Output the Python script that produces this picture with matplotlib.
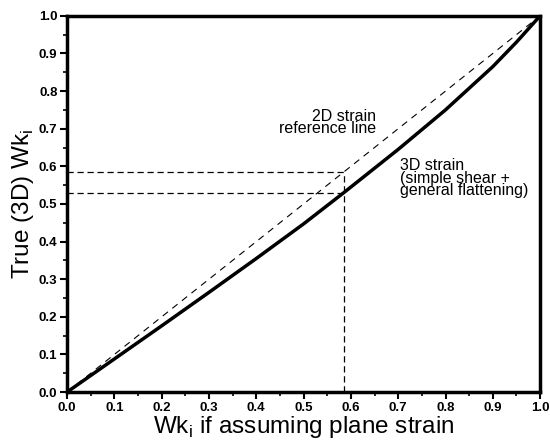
import matplotlib
matplotlib.use("Agg")
import matplotlib.pyplot as plt
import numpy as np

# 3D strain curve
wk_plane = [0.0, 0.05, 0.1, 0.2, 0.3, 0.4, 0.5, 0.585, 0.7, 0.8, 0.9, 0.95, 1.0]
wk_true = [0.0, 0.044, 0.088, 0.176, 0.265, 0.355, 0.447, 0.53, 0.645, 0.75, 0.865, 0.93, 1.0]

# 2D reference line
ref_x = [0.0, 1.0]
ref_y = [0.0, 1.0]

# example read-off
ex_x = 0.585
ex_ref = 0.585
ex_true = 0.53

ticks = np.arange(0, 1.01, 0.1)
tick_labels = ["%.1f" % t for t in ticks]

ref_lines = ["2D strain", "reference line"]
curve_lines = ["3D strain", "(simple shear +", "general flattening)"]

plt.rcParams['font.family'] = ['Liberation Sans', 'DejaVu Sans']

fig = plt.figure(figsize=(5.5, 4.4), dpi=100)
ax = fig.add_axes([0.122, 0.109, 0.860, 0.855])

ax.plot(ref_x, ref_y, color='black', lw=0.8, dashes=(6, 5))
ax.plot(wk_plane, wk_true, color='black', lw=2.5, solid_capstyle='round')

ax.plot([0, ex_x], [ex_ref, ex_ref], color='black', lw=0.9, dashes=(5, 3))
ax.plot([0, ex_x], [ex_true, ex_true], color='black', lw=0.9, dashes=(5, 3))
ax.plot([ex_x, ex_x], [0, ex_ref], color='black', lw=0.9, dashes=(5, 3))

# annotations, tight leading like the original
ax.text(0.653, 0.752, "\n".join(ref_lines), ha='right', va='top',
        multialignment='right', fontsize=11.5, linespacing=0.78)
ax.text(0.704, 0.621, "\n".join(curve_lines), ha='left', va='top',
        multialignment='left', fontsize=11.5, linespacing=0.78)

ax.set_xlim(0, 1)
ax.set_ylim(0, 1)
ax.set_xticks(ticks)
ax.set_xticklabels(tick_labels)
ax.set_yticks(ticks)
ax.set_yticklabels(tick_labels)
ax.set_xticks(np.arange(0.05, 1.0, 0.1), minor=True)
ax.set_yticks(np.arange(0.05, 1.0, 0.1), minor=True)
ax.tick_params(which='major', direction='out', length=5, width=1.5, labelsize=9.5, pad=2)
ax.tick_params(which='minor', direction='out', length=3, width=1.2)
for lab in ax.get_xticklabels() + ax.get_yticklabels():
    lab.set_fontweight('bold')

for s in ax.spines.values():
    s.set_linewidth(2.5)

ax.set_xlabel("Wk$_\\mathregular{i}$ if assuming plane strain", fontsize=17.5, labelpad=0)
ax.set_ylabel("True (3D) Wk$_\\mathregular{i}$", fontsize=17.5, labelpad=2)

fig.savefig("out.png", dpi=100)
